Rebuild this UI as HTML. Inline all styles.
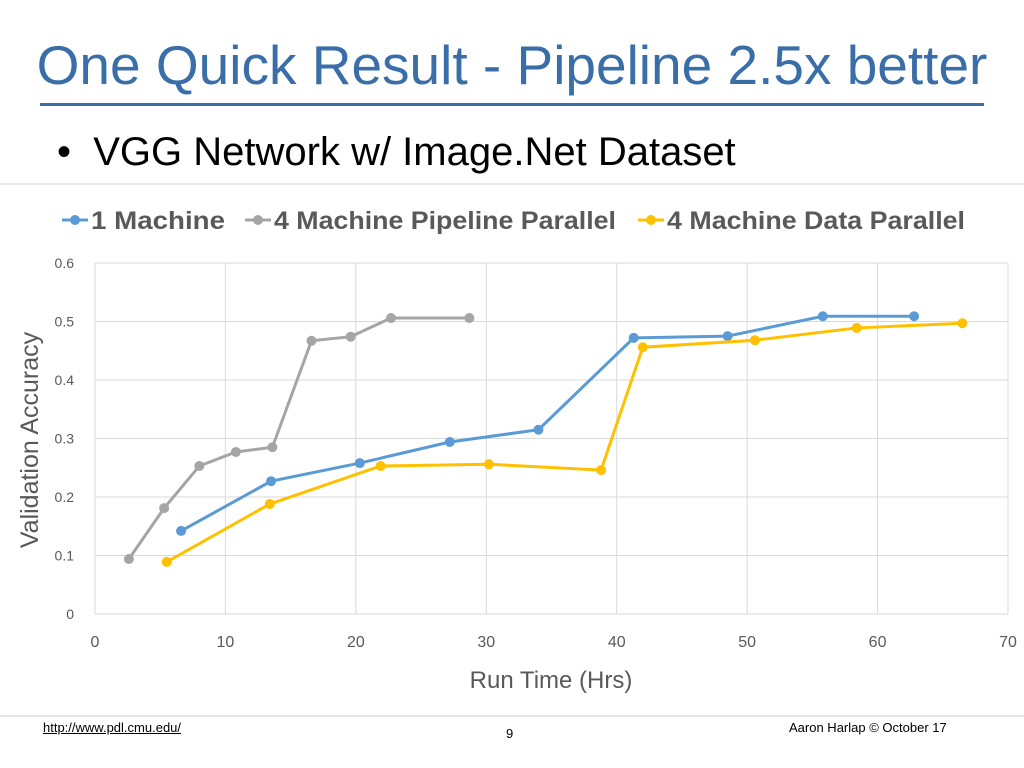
<!DOCTYPE html>
<html><head><meta charset="utf-8"><style>
body{margin:0;width:1024px;height:768px;background:#fff;overflow:hidden;font-family:"Liberation Sans",sans-serif;position:relative}
.t{position:absolute;left:0;width:1024px;text-align:center;top:34px;font-size:55px;color:#3a6ea8;line-height:62px;white-space:nowrap}
.rule{position:absolute;left:40px;width:944px;top:103px;height:3px;background:#3a6ea8}
.b{position:absolute;left:57px;top:130px;font-size:40px;color:#000;white-space:nowrap}
.f{position:absolute;font-size:13px;color:#000}
</style></head><body>
<div class="t">One Quick Result - Pipeline 2.5x better</div>
<div class="rule"></div>
<div class="b">• &nbsp;VGG Network w/ Image.Net Dataset</div>
<svg id="c" width="1024" height="540" style="position:absolute;left:0;top:180px"></svg>
<div class="f" style="left:43px;top:720px;text-decoration:underline">http://www.pdl.cmu.edu/</div>
<div class="f" style="left:506px;top:726px">9</div>
<div class="f" style="left:789px;top:720px">Aaron Harlap © October 17</div>
<script>
const xTicks=[0,10,20,30,40,50,60,70];
const yTicks=[0,0.1,0.2,0.3,0.4,0.5,0.6];
const seriesNames=["1 Machine","4 Machine Pipeline Parallel","4 Machine Data Parallel"];
const oneX=[6.6,13.5,20.3,27.2,34.0,41.3,48.5,55.8,62.8];
const oneY=[0.142,0.227,0.258,0.294,0.315,0.472,0.475,0.509,0.509];
const pipeX=[2.6,5.3,8.0,10.8,13.6,16.6,19.6,22.7,28.7];
const pipeY=[0.094,0.181,0.253,0.277,0.285,0.467,0.474,0.506,0.506];
const dataX=[5.5,13.4,21.9,30.2,38.8,42.0,50.6,58.4,66.5];
const dataY=[0.089,0.188,0.253,0.256,0.246,0.456,0.468,0.489,0.497];
const svg=document.getElementById('c');const NS="http://www.w3.org/2000/svg";
const OY=180;
const sx=v=>95+v*(1008-95)/70;
const sy=v=>614-OY-v*(614-263)/0.6;
function el(t,a,p){const e=document.createElementNS(NS,t);for(const k in a)e.setAttribute(k,a[k]);(p||svg).appendChild(e);return e;}
el('line',{x1:0,y1:4,x2:1024,y2:4,stroke:'#e6e6e6','stroke-width':2});
el('line',{x1:0,y1:536,x2:1024,y2:536,stroke:'#e6e6e6','stroke-width':2});
yTicks.forEach(v=>{const g=el('line',{x1:95,x2:1008,y1:sy(v),y2:sy(v),stroke:'#d9d9d9'});

const t=el('text',{x:74,y:sy(v)+5,'text-anchor':'end','font-size':14,fill:'#595959'});t.textContent=v===0?'0':v.toFixed(1);
});
xTicks.forEach(v=>{const g=el('line',{x1:sx(v),x2:sx(v),y1:sy(0.6),y2:sy(0),stroke:'#d9d9d9'});

const t=el('text',{x:sx(v),y:sy(0)+33,'text-anchor':'middle','font-size':16,fill:'#595959'});t.textContent=v;
});
let xt=el('text',{x:551,y:508,'text-anchor':'middle','font-size':24,fill:'#595959'});xt.textContent='Run Time (Hrs)';

let yt=el('text',{x:0,y:0,'text-anchor':'middle','font-size':25,fill:'#595959',transform:'translate(38,260) rotate(-90)'});yt.textContent='Validation Accuracy';

const cols=['#5b9bd5','#a5a5a5','#ffc000'];
const xs=[oneX,pipeX,dataX],ys=[oneY,pipeY,dataY];
const lx=[62,245,638];
seriesNames.forEach((n,i)=>{
 const g=el('g',{});
 el('line',{x1:lx[i],x2:lx[i]+26,y1:40,y2:40,stroke:cols[i],'stroke-width':3},g);
 el('circle',{cx:lx[i]+13,cy:40,r:5,fill:cols[i]},g);
 const t=el('text',{x:lx[i]+29,y:49,'font-size':25,fill:'#595959','font-weight':'bold','textLength':[134,342,298][i],'lengthAdjust':'spacingAndGlyphs'},g);t.textContent=n;
 const pts=xs[i].map((x,j)=>sx(x)+','+sy(ys[i][j])).join(' ');
 const pl=el('polyline',{points:pts,fill:'none',stroke:cols[i],'stroke-width':3});
 
 xs[i].forEach((x,j)=>{const c=el('circle',{cx:sx(x),cy:sy(ys[i][j]),r:5,fill:cols[i]});
 });
});
</script>
</body></html>
